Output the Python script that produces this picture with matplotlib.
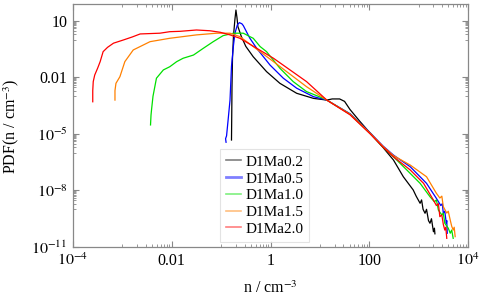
import numpy as np
import matplotlib
matplotlib.use('Agg')
import matplotlib.pyplot as plt
from matplotlib.ticker import FixedLocator, FuncFormatter, NullFormatter

plt.rcParams['font.family'] = ['Liberation Serif', 'DejaVu Serif']
plt.rcParams['mathtext.fontset'] = 'stix'

# =====================
# Data (log10 n, log10 PDF)
# =====================
labels = ['D1Ma0.2', 'D1Ma0.5', 'D1Ma1.0', 'D1Ma1.5', 'D1Ma2.0']
colors = ['black', '#0000ff', '#00e000', '#ff8000', '#ff0000']

logn_02 = [-0.79, -0.785, -0.78, -0.77, -0.75, -0.72, -0.70, -0.68, -0.66, -0.59, -0.50, -0.35,
           -0.08, 0.19, 0.53, 0.87, 1.14, 1.25, 1.40, 1.50, 1.61, 1.80, 2.02, 2.28, 2.49, 2.69,
           2.89, 2.95, 3.03, 3.06, 3.09, 3.13, 3.16, 3.20, 3.23, 3.26, 3.30, 3.32, 3.33]
logp_02 = [-5.32, -4.00, -2.50, -1.00, 0.20, 1.10, 1.58, 1.20, 0.70, 0.17, -0.35, -0.90,
           -1.69, -2.31, -2.84, -3.11, -3.20, -3.14, -3.14, -3.27, -3.70, -4.30, -4.96, -5.72, -6.38, -7.27,
           -7.97, -8.30, -8.68, -8.50, -9.00, -9.21, -9.00, -9.60, -9.74, -9.50, -10.19, -10.00, -10.30]

logn_05 = [-0.90, -0.91, -0.89, -0.86, -0.82, -0.79, -0.75, -0.72, -0.67, -0.63, -0.58, -0.55,
           -0.42, -0.28, -0.01, 0.26, 0.53, 0.87, 1.14, 1.61, 2.02, 2.28, 2.49, 2.83, 3.16,
           3.36, 3.45, 3.48, 3.50, 3.53, 3.56, 3.57, 3.58]
logp_05 = [-5.44, -5.25, -5.10, -4.30, -3.20, -1.40, -0.30, 0.35, 0.80, 0.91, 0.85, 0.75,
           0.09, -0.45, -1.34, -2.04, -2.57, -3.02, -3.20, -3.92, -4.94, -5.64, -6.12, -6.74, -7.62,
           -8.42, -8.80, -8.70, -9.21, -9.10, -9.74, -9.60, -10.27]

logn_10 = [-2.43, -2.42, -2.41, -2.38, -2.31, -2.17, -2.04, -1.90, -1.77, -1.56, -1.36, -1.16,
           -0.96, -0.75, -0.55, -0.42, -0.35, -0.21, -0.08, 0.19, 0.46, 0.73, 1.07, 1.14, 1.61,
           2.02, 2.28, 2.49, 2.76, 3.03, 3.23, 3.32, 3.36, 3.40, 3.47, 3.50, 3.53, 3.60, 3.64, 3.67, 3.70]
logp_10 = [-4.52, -4.00, -3.73, -3.00, -2.04, -1.60, -1.43, -1.16, -0.98, -0.81, -0.45, -0.10,
           0.22, 0.35, 0.35, 0.17, 0.08, -0.36, -0.63, -1.51, -2.22, -2.75, -3.11, -3.20, -3.95,
           -4.98, -5.70, -6.21, -6.91, -7.62, -8.33, -8.60, -8.50, -9.04, -9.30, -9.20, -9.74, -10.00, -10.27, -10.10, -10.54]

logn_15 = [-3.15, -3.15, -3.13, -3.05, -2.95, -2.78, -2.44, -2.04, -1.50, -1.09, -0.82, -0.62,
           0.06, 0.73, 1.14, 1.61, 2.02, 2.28, 2.49, 2.83, 3.16, 3.36, 3.43, 3.47, 3.50, 3.57,
           3.60, 3.64, 3.67, 3.70, 3.72, 3.74]
logp_15 = [-3.20, -2.70, -2.31, -1.96, -1.16, -0.54, -0.10, 0.08, 0.26, 0.35, 0.35, 0.17,
           -1.16, -2.49, -3.20, -3.95, -4.96, -5.66, -6.15, -6.65, -7.27, -8.15, -8.40, -8.30, -8.86, -9.20,
           -9.10, -9.57, -9.90, -10.10, -9.95, -10.45]

logn_20 = [-3.60, -3.60, -3.59, -3.56, -3.50, -3.45, -3.39, -3.30, -3.18, -2.98, -2.80, -2.64,
           -2.24, -2.04, -1.83, -1.50, -1.23, -1.02, -0.82, -0.62, 0.06, 0.73, 1.14, 1.61, 2.02,
           2.28, 2.49, 2.83, 3.10, 3.30, 3.36, 3.40, 3.43, 3.47, 3.50, 3.53, 3.55, 3.57]
logp_20 = [-3.29, -2.70, -2.22, -1.87, -1.50, -1.16, -0.63, -0.40, -0.18, -0.01, 0.15, 0.31,
           0.35, 0.43, 0.45, 0.52, 0.48, 0.40, 0.26, 0.08, -0.98, -2.22, -3.20, -3.98, -5.00,
           -5.70, -6.21, -6.91, -7.62, -8.51, -8.80, -8.70, -9.39, -9.30, -9.80, -10.10, -9.95, -10.54]

series = [(logn_02, logp_02), (logn_05, logp_05), (logn_10, logp_10),
          (logn_15, logp_15), (logn_20, logp_20)]

x_major = [1e-4, 1e-2, 1, 1e2, 1e4]
x_major_labels = ['$10^{-4}$', '0.01', '1', '100', '$10^{4}$']
y_major = [1e-11, 1e-8, 1e-5, 1e-2, 1e1]
y_major_labels = ['$10^{-11}$', '$10^{-8}$', '$10^{-5}$', '0.01', '10']

# =====================
# Plot
# =====================
fig = plt.figure(figsize=(4.8, 3.05), dpi=100)
ax = fig.add_axes([73 / 480, 58 / 305, 395 / 480, 243 / 305])

for (ln, lp), c in zip(series, colors):
    ax.plot(10 ** np.array(ln), 10 ** np.array(lp), color=c, lw=0.9)

ax.set_xscale('log')
ax.set_yscale('log')
ax.set_xlim(1e-4, 1e4)
ax.set_ylim(1e-11, 10 ** 1.9)

def minor_ticks(majors):
    out = []
    for m in majors:
        base = m / 10
        out += [j * base for j in range(1, 10)]
    return out

ax.xaxis.set_major_locator(FixedLocator(x_major))
ax.xaxis.set_minor_locator(FixedLocator(minor_ticks(x_major)))
ax.yaxis.set_major_locator(FixedLocator(y_major))
ax.yaxis.set_minor_locator(FixedLocator(minor_ticks(y_major)))
ax.xaxis.set_major_formatter(FuncFormatter(lambda v, p: x_major_labels[p] if p < len(x_major_labels) else ''))
ax.yaxis.set_major_formatter(FuncFormatter(lambda v, p: y_major_labels[p] if p < len(y_major_labels) else ''))
ax.xaxis.set_minor_formatter(NullFormatter())
ax.yaxis.set_minor_formatter(NullFormatter())

for s in ax.spines.values():
    s.set_color('#888888')
    s.set_linewidth(0.9)
ax.tick_params(which='both', direction='in', top=True, right=True, color='#888888', labelsize=11.5)
ax.tick_params(which='major', length=4.5, width=0.8, pad=4)
ax.tick_params(which='minor', length=2.2, width=0.6)

fig.text(270 / 480, 1 - 289 / 305, 'n / cm$^{-3}$', ha='center', va='center', fontsize=11.5)
fig.text(11 / 480, 1 - 126 / 305, 'PDF(n / cm$^{-3}$)', ha='center', va='center',
         rotation=90, fontsize=11.5)

handles = []
for lab, c in zip(labels, colors):
    lw = 2.0 if lab == 'D1Ma0.5' else 1.2
    h, = ax.plot([], [], color=c, lw=lw, alpha=0.5, label=lab)
    handles.append(h)
leg = ax.legend(handles=handles, loc='upper left', bbox_to_anchor=(220 / 480, 1 - 149 / 305),
                bbox_transform=fig.transFigure, fontsize=11, frameon=True, fancybox=False,
                handlelength=1.0, handletextpad=0.25, labelspacing=0.2, borderpad=0.4,
                borderaxespad=0)
leg.get_frame().set_edgecolor('#dddddd')
leg.get_frame().set_linewidth(0.8)

fig.savefig('out.png', dpi=100)
